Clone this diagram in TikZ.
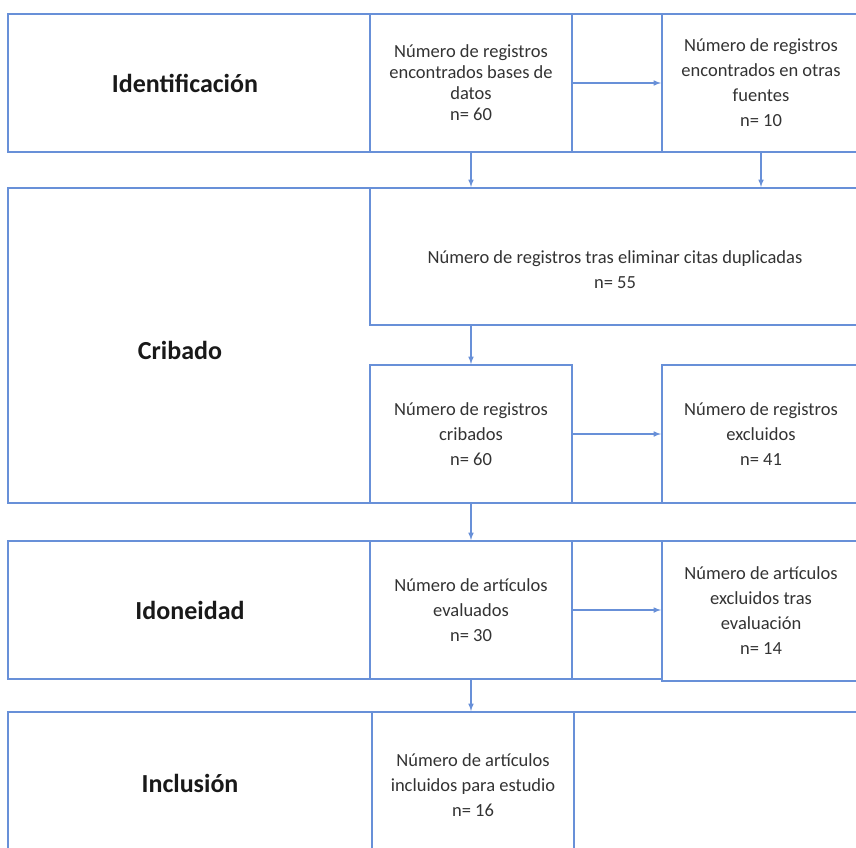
\documentclass[tikz,border=0pt]{standalone}
\usepackage{fontspec}
\setmainfont{Carlito}
\usetikzlibrary{positioning}

\definecolor{prismablue}{RGB}{104,144,216}

\begin{document}
\begin{tikzpicture}[x = 1pt, y = -1pt,
  phase/.style = {draw = prismablue, line width = 2pt, inner sep = 0pt},
  phaselabel/.style = {font = \fontsize{26}{30}\selectfont\bfseries, text = black!90},
  recbox/.style = {draw = prismablue, line width = 2pt, fill = white, align = center,
    inner sep = 0pt, text = black!80, font = \fontsize{18.5}{25}\selectfont},
  flow/.style = {draw = prismablue, line width = 1.5pt, -latex}]

  \useasboundingbox (0, 0) rectangle (856, 847);
  \clip (0, 0) rectangle (856, 847);

  \node[phase, minimum width = 852, minimum height = 138] (identrow) at (434, 83) {};
  \node[phase, minimum width = 852, minimum height = 315] (cribrow) at (434, 345.5) {};
  \node[phase, minimum width = 852, minimum height = 138] (idonrow) at (434, 610) {};
  \node[phase, minimum width = 852, minimum height = 146] (inclrow) at (434, 785) {};

  \node[phaselabel] (identlabel) at (185, 83) {Identificación};
  \node[phaselabel] (criblabel) at (180, 350) {Cribado};
  \node[phaselabel] (idonlabel) at (190, 610) {Idoneidad};
  \node[phaselabel] (incllabel) at (190, 783) {Inclusión};

  \node[recbox, minimum width = 202, minimum height = 138, font = \fontsize{18.5}{21}\selectfont]
    (regbases) at (471, 83) {Número de registros\\encontrados bases de\\datos\\n= 60};
  \node[recbox, minimum width = 198, minimum height = 138, font = \fontsize{18.5}{25}\selectfont]
    (regotras) at (761, 83) {Número de registros\\encontrados en otras\\fuentes\\n= 10};

  \node[recbox, minimum width = 490, minimum height = 137, text height = 68pt, text depth = 4pt]
    (sindup) at (615, 256.5) {Número de registros tras eliminar citas duplicadas\\n= 55};

  \node[recbox, minimum width = 202, minimum height = 138] (cribados) at (471, 434)
    {Número de registros\\cribados\\n= 60};
  \node[recbox, minimum width = 198, minimum height = 138] (excluidos) at (761, 434)
    {Número de registros\\excluidos\\n= 41};

  \node[recbox, minimum width = 202, minimum height = 138] (evaluados) at (471, 610)
    {Número de artículos\\evaluados\\n= 30};
  \node[recbox, minimum width = 198, minimum height = 140] (exclevaluacion) at (761, 611)
    {Número de artículos\\excluidos tras\\evaluación\\n= 14};

  \node[recbox, minimum width = 202, minimum height = 146] (incluidos) at (473, 785)
    {Número de artículos\\incluidos para estudio\\n= 16};

  \draw[flow] (regbases.east) -- (regbases.east -| regotras.west);
  \draw[flow] (regbases.south) -- (regbases.south |- sindup.north);
  \draw[flow] (regotras.south) -- (regotras.south |- sindup.north);
  \draw[flow] (cribados.north |- sindup.south) -- (cribados.north);
  \draw[flow] (cribados.east) -- (cribados.east -| excluidos.west);
  \draw[flow] (cribados.south) -- (evaluados.north);
  \draw[flow] (evaluados.east) -- (evaluados.east -| exclevaluacion.west);
  \draw[flow] (evaluados.south) -- (evaluados.south |- incluidos.north);
\end{tikzpicture}
\end{document}
